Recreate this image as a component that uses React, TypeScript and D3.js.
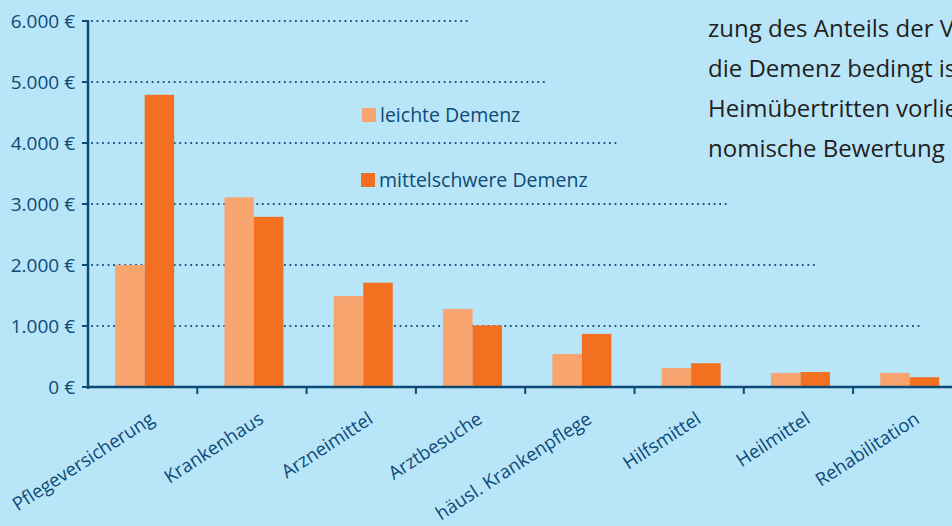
import React from 'react';
import * as d3 from 'd3';

const categories = [
  'Pflegeversicherung',
  'Krankenhaus',
  'Arzneimittel',
  'Arztbesuche',
  'häusl. Krankenpflege',
  'Hilfsmittel',
  'Heilmittel',
  'Rehabilitation',
];
const leichteDemenz = [2000, 3110, 1490, 1280, 540, 310, 230, 230];
const mittelschwereDemenz = [4790, 2790, 1710, 1010, 870, 390, 245, 160];
const seriesNames = ['leichte Demenz', 'mittelschwere Demenz'];
const yTicks = [0, 1000, 2000, 3000, 4000, 5000, 6000];
const yTickLabels = ['0 €', '1.000 €', '2.000 €', '3.000 €', '4.000 €', '5.000 €', '6.000 €'];
const paragraphLines = [
  'zung des Anteils der Versorgung',
  'die Demenz bedingt ist',
  'Heimübertritten vorliegen',
  'nomische Bewertung',
];

// layout
const W = 952;
const H = 526;
const X0 = 88;
const STEP = 109.3;
const Y_BASE = 387;
const Y_TOP = 21;
const GRID_END_X = [0, 919, 818, 730, 620, 548, 467];

const BG = '#b9e5f9';
const AXIS = '#0e4a76';
const LIGHT = '#f8a46e';
const DARK = '#f37021';
const FONT = "'Open Sans', sans-serif";

export default function App() {
  const x = d3
    .scaleBand<string>()
    .domain(categories)
    .range([X0, X0 + STEP * categories.length])
    .padding(0);
  const y = d3.scaleLinear().domain([0, 6000]).range([Y_BASE, Y_TOP]);
  const barW = 29.5;
  const xs = d3.scaleBand<number>().domain([0, 1]).range([-barW, barW]).padding(0);
  const series = [leichteDemenz, mittelschwereDemenz];
  const colors = [LIGHT, DARK];

  return (
    <svg
      width={W}
      height={H}
      style={{ position: 'absolute', left: 0, top: 0, display: 'block' }}
      fontFamily={FONT}
    >
      <rect x={0} y={0} width={W} height={H} fill={BG} />

      {/* gridlines */}
      {yTicks.map((t, i) =>
        t === 0 ? null : (
          <line
            key={'g' + t}
            x1={X0 + 4}
            x2={GRID_END_X[i]}
            y1={y(t)}
            y2={y(t)}
            stroke={AXIS}
            strokeWidth={2.2}
            strokeDasharray="0.01 5.5"
            strokeLinecap="round"
          />
        )
      )}

      {/* bars */}
      {categories.map((c, i) => {
        const cx = (x(c) as number) + x.bandwidth() / 2 + 2;
        return series.map((s, k) => (
          <rect
            key={c + k}
            x={cx + (xs(k) as number)}
            y={y(s[i])}
            width={xs.bandwidth()}
            height={Y_BASE - y(s[i])}
            fill={colors[k]}
          />
        ));
      })}

      {/* y axis */}
      <line x1={X0} x2={X0} y1={Y_TOP - 1} y2={Y_BASE + 2} stroke={AXIS} strokeWidth={2.5} />
      {yTicks.map((t, i) => (
        <g key={'y' + t}>
          <line x1={X0 - 6} x2={X0} y1={y(t)} y2={y(t)} stroke={AXIS} strokeWidth={2} />
          <text
            x={75}
            y={y(t)}
            dy="0.36em"
            textAnchor="end"
            fontSize={19}
            fill={AXIS}
          >
            {yTickLabels[i]}
          </text>
        </g>
      ))}

      {/* x axis */}
      <line x1={X0 - 1} x2={W} y1={Y_BASE} y2={Y_BASE} stroke={AXIS} strokeWidth={2.5} />
      {categories.map((c, i) => {
        const bx = (x(c) as number) + x.bandwidth();
        return (
          <line key={'xt' + i} x1={bx} x2={bx} y1={Y_BASE} y2={Y_BASE + 7} stroke={AXIS} strokeWidth={2} />
        );
      })}
      {categories.map((c) => {
        const cx = (x(c) as number) + x.bandwidth() / 2 + 13;
        return (
          <text
            key={'xl' + c}
            transform={`translate(${cx},${422}) rotate(-33)`}
            textAnchor="end"
            fontSize={18.5}
            fill={AXIS}
          >
            {c}
          </text>
        );
      })}

      {/* legend */}
      {seriesNames.map((n, k) => (
        <g key={'lg' + n} transform={`translate(${362 - k},${108 + k * 65})`}>
          <rect x={0} y={0} width={14} height={14} fill={colors[k]} />
          <text x={18} y={13.5} fontSize={19.5} fill={AXIS}>
            {n}
          </text>
        </g>
      ))}

      {/* paragraph text */}
      {paragraphLines.map((l, i) => (
        <text key={'p' + i} x={708} y={37 + i * 40} fontSize={24} fill="#231f20">
          {l}
        </text>
      ))}
    </svg>
  );
}
